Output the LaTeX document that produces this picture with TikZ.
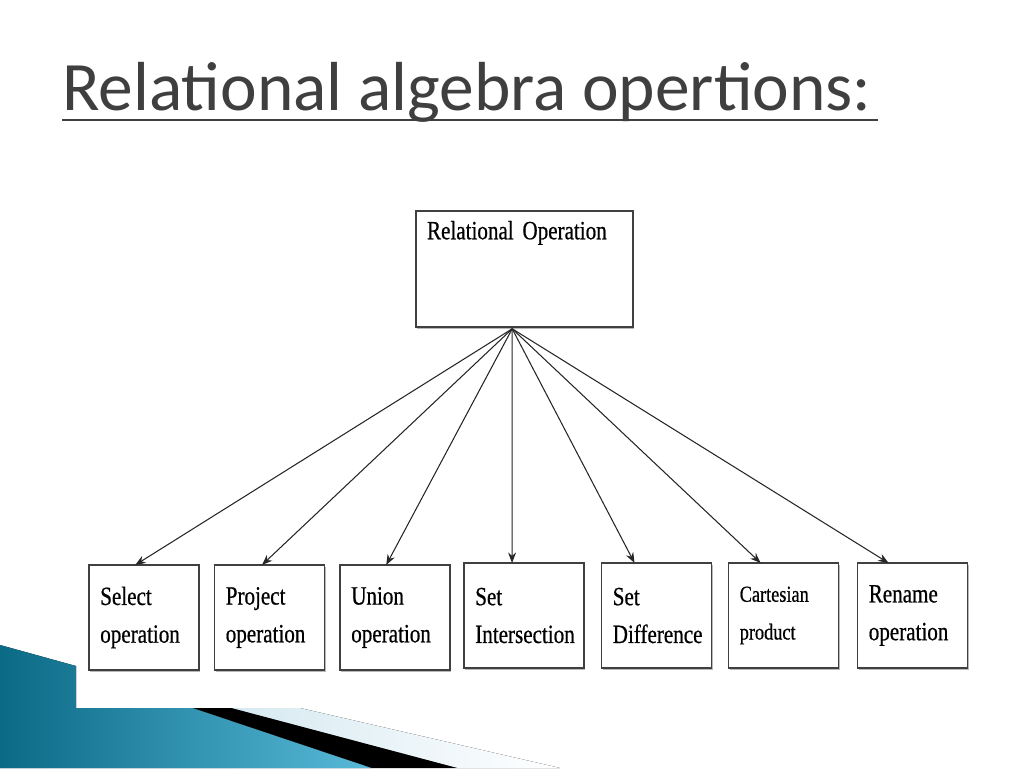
\documentclass[tikz,border=0pt]{standalone}
\usepackage{fontspec}
\setmainfont{Liberation Serif}
\newfontfamily\titlefont{Carlito}
\newfontfamily\boxfont[FakeStretch=0.8,FakeBold=0.6]{Liberation Serif}
\usepackage{tikz}
\usetikzlibrary{arrows.meta,shadows}
\definecolor{titlegray}{HTML}{3F3F3F}
\definecolor{tealdark}{HTML}{0B6A86}
\definecolor{teallight}{HTML}{58BAD8}
\definecolor{stripe}{HTML}{D6E9F1}
\tikzset{
    opbox/.style = {
        align=left,
        rectangle,
        draw=black!75,
        thick,
        fill=white,
        font=\boxfont\fontsize{15}{21.5}\selectfont,
        text width=1.75cm,
        minimum width=2.2cm,
        minimum height=2.1cm,
        inner sep=0.2cm,
        outer sep=0mm,
        drop shadow={shadow xshift=0.8pt, shadow yshift=-1.2pt, fill=black!35, opacity=0.8}
    },
    rootbox/.style = {
        opbox,
        text width=3.9cm,
        minimum width=4.34cm
    },
    link/.style = {
        draw=black!85,
        semithick,
        -{Stealth[length=6pt,width=4.5pt]}
    }
}
\begin{document}
\begin{tikzpicture}[x=0.02cm,y=-0.02cm]
    \useasboundingbox (0,0) rectangle (1024,768);
    % slide decoration
    \fill[left color=tealdark, right color=teallight] (0,645) -- (76,666) -- (76,708) -- (193,708) -- (372,768) -- (0,768) -- cycle;
    \fill[black] (193,708) -- (232,708) -- (458,768) -- (372,768) -- cycle;
    \fill[left color=stripe, right color=white] (232,708) -- (300,708) -- (560,768) -- (458,768) -- cycle;
    % title
    \node [anchor=base west, inner sep=0pt, text=titlegray, font=\titlefont\fontsize{39.5}{44}\selectfont] (title) at (62,110) {Relational algebra opertions:};
    \draw [titlegray, line width=1.2pt] (62,120) -- (878,120);
    % boxes
    \node [rootbox] (root) at (524.5,269) {Relational Operation\\[0.8cm]\mbox{}};
    \node [opbox] (sel) at (144,617.5) {Select\\operation};
    \node [opbox] (proj) at (269.5,617.5) {Project\\operation};
    \node [opbox] (uni) at (395,617.5) {Union\\operation};
    \node [opbox, text width=1.95cm, minimum width=2.4cm] (inter) at (524,615.5) {Set\\Intersection};
    \node [opbox] (diff) at (656.5,615.5) {Set\\Difference};
    \node [opbox] (cart) at (783.5,615.5) {{\fontsize{13}{21.5}\selectfont Cartesian}\\{\fontsize{13}{21.5}\selectfont product}};
    \node [opbox] (ren) at (912.5,615.5) {Rename\\operation};
    % connectors
    \coordinate (hub) at ([xshift=-7pt,yshift=-1pt]root.south);
    \draw [link] (hub) -- ([xshift=-5pt]sel.north);
    \draw [link] (hub) -- ([xshift=-4.3pt]proj.north);
    \draw [link] (hub) -- ([xshift=-5pt]uni.north);
    \draw [link] (hub) -- ([xshift=-6.8pt]inter.north);
    \draw [link] (hub) -- ([xshift=-12.5pt]diff.north);
    \draw [link] (hub) -- ([xshift=-13pt]cart.north);
    \draw [link] (hub) -- ([xshift=-13.6pt]ren.north);
\end{tikzpicture}
\end{document}
